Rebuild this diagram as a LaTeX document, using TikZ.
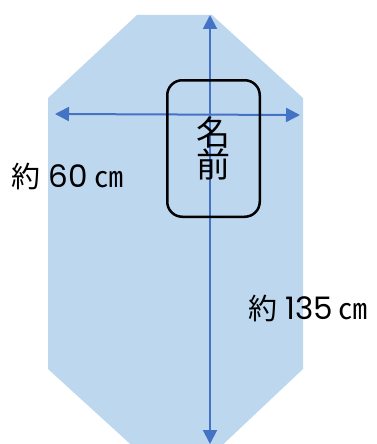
\documentclass[tikz,border=0pt]{standalone}
\usepackage{fontspec}
\setmainfont{Noto Sans CJK JP}
\newfontfamily\digitfont{Poppins}
\usetikzlibrary{arrows.meta, positioning}
\definecolor{sheetblue}{RGB}{189,215,238}
\definecolor{dimblue}{RGB}{68,114,196}
\newcommand{\sizetext}[1]{約\hspace{8pt}{\digitfont\fontsize{31}{31}\selectfont #1}\hspace{6pt}㎝}

\begin{document}
\begin{tikzpicture}[x=1pt,y=-1pt,
    dimline/.style={dimblue, line width=2pt, {Triangle[length=14pt,width=14pt]}-{Triangle[length=14pt,width=14pt]}},
    sizelabel/.style={font=\fontsize{29}{29}\selectfont, inner sep=0pt}]
        \useasboundingbox (0,0) rectangle (377,444);
        \clip (0,0) rectangle (377,444);
        \fill[sheetblue] (137,15) -- (212,15) -- (303,98) -- (303,369) -- (215,452) -- (139,452) -- (48,369) -- (48,98) -- cycle;
        \coordinate (top) at (210,15);
        \coordinate (bottom) at (210,444);
        \coordinate (left) at (55,114);
        \coordinate (right) at (300,115);
        \draw[dimline] (top) -- (bottom);
        \draw[dimline] (left) -- (right);
        \node[draw, line width=2.5pt, rounded corners=15pt, minimum width=92.5pt, minimum height=136.5pt, align=center, font=\fontsize{34}{32}\selectfont] (name) at (213.5,148.5) {名\\前};
        \node[sizelabel] (width) at (67.5,176) {\sizetext{60}};
        \node[sizelabel] (length) at (308,308) {\sizetext{135}};
    \end{tikzpicture}
\end{document}
